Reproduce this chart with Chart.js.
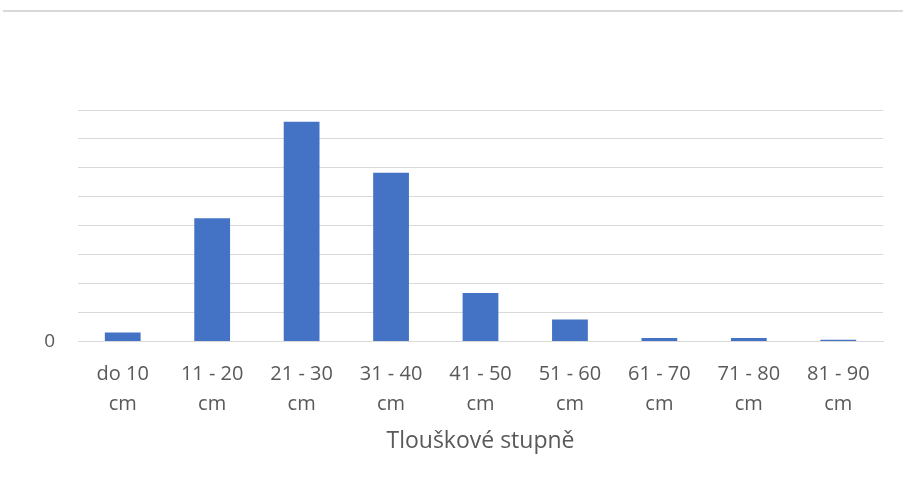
<!DOCTYPE html>
<html>
<head>
<meta charset="utf-8">
<script src="https://cdn.jsdelivr.net/npm/chart.js@4/dist/chart.umd.min.js"></script>
<style>
html,body{margin:0;padding:0;background:#fff;}
#wrap{width:903px;height:482px;position:relative;}
</style>
</head>
<body>
<div id="wrap"><canvas id="c" width="903" height="482"></canvas></div>
<script>
const categories = [["do 10","cm"],["11 - 20","cm"],["21 - 30","cm"],["31 - 40","cm"],["41 - 50","cm"],["51 - 60","cm"],["61 - 70","cm"],["71 - 80","cm"],["81 - 90","cm"]];
const values = [0.31, 4.26, 7.59, 5.83, 1.68, 0.76, 0.12, 0.12, 0.06];
const yTickLabels = ["0"];
const xAxisTitle = "Tlouškové stupně";

const topLine = {
  id: 'topLine',
  beforeDraw(chart) {
    const ctx = chart.ctx;
    ctx.save();
    ctx.strokeStyle = '#d9d9d9';
    ctx.lineWidth = 2;
    ctx.beginPath();
    ctx.moveTo(3, 11);
    ctx.lineTo(903, 11);
    ctx.stroke();
    ctx.restore();
  }
};

new Chart(document.getElementById('c'), {
  type: 'bar',
  data: {
    labels: categories,
    datasets: [{
      data: values,
      backgroundColor: '#4472C4',
      borderWidth: 0,
      categoryPercentage: 0.8,
      barPercentage: 0.5
    }]
  },
  options: {
    responsive: false,
    animation: false,
    devicePixelRatio: 1,
    layout: { padding: { top: 110, right: 20, left: 0, bottom: 27 } },
    plugins: { legend: { display: false }, tooltip: { enabled: false } },
    scales: {
      x: {
        grid: { display: false, drawTicks: false },
        border: { color: '#d9d9d9', width: 1 },
        ticks: { color: '#595959', font: { family: 'Open Sans', size: 20, lineHeight: 1.5 }, padding: 18, maxRotation: 0, autoSkip: false },
        title: { display: true, text: xAxisTitle, color: '#595959', font: { family: 'Open Sans', size: 23, lineHeight: 1.2 }, padding: { top: 9, bottom: 0 } },
        afterFit(scale) { scale.height = 113.5; }
      },
      y: {
        min: 0, max: 8,
        grid: { color: '#d9d9d9', lineWidth: 1, drawTicks: false },
        border: { display: false },
        ticks: {
          stepSize: 1,
          color: '#595959',
          font: { family: 'Open Sans', size: 19 },
          padding: 23,
          callback: (v) => v === 0 ? yTickLabels[0] : ''
        },
        afterFit(scale) { scale.width = 78; }
      }
    }
  },
  plugins: [topLine]
});
</script>
</body>
</html>
